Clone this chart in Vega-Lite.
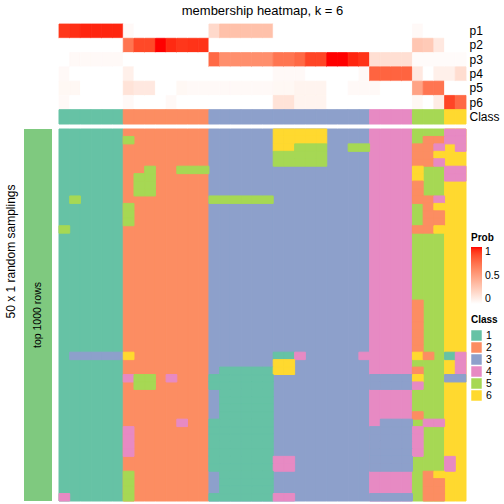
{
"$schema": "https://vega.github.io/schema/vega-lite/v6.json",
"padding": {"left": 3, "top": 4, "right": 0, "bottom": 0},
"config": {"font": "Liberation Sans", "view": {"stroke": null}},
"datasets": {
"cls": [{"c":0,"k":1},{"c":1,"k":1},{"c":2,"k":1},{"c":3,"k":1},{"c":4,"k":1},{"c":5,"k":1},{"c":6,"k":2},{"c":7,"k":2},{"c":8,"k":2},{"c":9,"k":2},{"c":10,"k":2},{"c":11,"k":2},{"c":12,"k":2},{"c":13,"k":2},{"c":14,"k":3},{"c":15,"k":3},{"c":16,"k":3},{"c":17,"k":3},{"c":18,"k":3},{"c":19,"k":3},{"c":20,"k":3},{"c":21,"k":3},{"c":22,"k":3},{"c":23,"k":3},{"c":24,"k":3},{"c":25,"k":3},{"c":26,"k":3},{"c":27,"k":3},{"c":28,"k":3},{"c":29,"k":4},{"c":30,"k":4},{"c":31,"k":4},{"c":32,"k":4},{"c":33,"k":5},{"c":34,"k":5},{"c":35,"k":5},{"c":36,"k":6},{"c":37,"k":6}],
"prob": [
{"c":0,"p1":0.92,"p2":0,"p3":0,"p4":0.03,"p5":0.04,"p6":0.03},
{"c":1,"p1":0.94,"p2":0,"p3":0.03,"p4":0,"p5":0.04,"p6":0},
{"c":2,"p1":0.96,"p2":0,"p3":0.03,"p4":0,"p5":0,"p6":0},
{"c":3,"p1":0.96,"p2":0,"p3":0.03,"p4":0,"p5":0,"p6":0},
{"c":4,"p1":0.96,"p2":0,"p3":0.03,"p4":0,"p5":0,"p6":0},
{"c":5,"p1":0.96,"p2":0,"p3":0.03,"p4":0,"p5":0,"p6":0},
{"c":6,"p1":0.03,"p2":0.7,"p3":0,"p4":0.08,"p5":0.15,"p6":0.03},
{"c":7,"p1":0,"p2":0.87,"p3":0,"p4":0,"p5":0.12,"p6":0},
{"c":8,"p1":0,"p2":0.87,"p3":0,"p4":0,"p5":0.12,"p6":0},
{"c":9,"p1":0,"p2":1,"p3":0,"p4":0,"p5":0,"p6":0},
{"c":10,"p1":0,"p2":0.95,"p3":0,"p4":0,"p5":0,"p6":0.03},
{"c":11,"p1":0,"p2":0.92,"p3":0,"p4":0,"p5":0.04,"p6":0},
{"c":12,"p1":0,"p2":0.93,"p3":0,"p4":0,"p5":0.03,"p6":0},
{"c":13,"p1":0,"p2":0.93,"p3":0,"p4":0,"p5":0.03,"p6":0},
{"c":14,"p1":0.2,"p2":0,"p3":0.75,"p4":0,"p5":0.03,"p6":0},
{"c":15,"p1":0.33,"p2":0,"p3":0.58,"p4":0,"p5":0.03,"p6":0},
{"c":16,"p1":0.33,"p2":0,"p3":0.58,"p4":0,"p5":0.03,"p6":0},
{"c":17,"p1":0.33,"p2":0,"p3":0.58,"p4":0,"p5":0.03,"p6":0},
{"c":18,"p1":0.33,"p2":0,"p3":0.58,"p4":0,"p5":0.03,"p6":0},
{"c":19,"p1":0.33,"p2":0,"p3":0.58,"p4":0,"p5":0.03,"p6":0},
{"c":20,"p1":0,"p2":0,"p3":0.7,"p4":0.03,"p5":0.04,"p6":0.15},
{"c":21,"p1":0,"p2":0,"p3":0.7,"p4":0.03,"p5":0.04,"p6":0.15},
{"c":22,"p1":0,"p2":0,"p3":0.75,"p4":0.03,"p5":0.06,"p6":0.06},
{"c":23,"p1":0,"p2":0,"p3":0.88,"p4":0,"p5":0.06,"p6":0.06},
{"c":24,"p1":0,"p2":0,"p3":0.88,"p4":0,"p5":0.06,"p6":0.06},
{"c":25,"p1":0,"p2":0,"p3":1,"p4":0,"p5":0,"p6":0},
{"c":26,"p1":0,"p2":0,"p3":1,"p4":0,"p5":0,"p6":0},
{"c":27,"p1":0,"p2":0,"p3":0.96,"p4":0,"p5":0.03,"p6":0},
{"c":28,"p1":0,"p2":0,"p3":0.93,"p4":0.03,"p5":0.03,"p6":0},
{"c":29,"p1":0,"p2":0,"p3":0.17,"p4":0.77,"p5":0.03,"p6":0},
{"c":30,"p1":0,"p2":0,"p3":0.17,"p4":0.77,"p5":0,"p6":0},
{"c":31,"p1":0,"p2":0,"p3":0.17,"p4":0.77,"p5":0,"p6":0},
{"c":32,"p1":0,"p2":0,"p3":0.17,"p4":0.77,"p5":0,"p6":0},
{"c":33,"p1":0.03,"p2":0.3,"p3":0.02,"p4":0.12,"p5":0.48,"p6":0.04},
{"c":34,"p1":0,"p2":0.28,"p3":0.02,"p4":0,"p5":0.7,"p6":0},
{"c":35,"p1":0,"p2":0.12,"p3":0.02,"p4":0.08,"p5":0.7,"p6":0.1},
{"c":36,"p1":0,"p2":0,"p3":0.02,"p4":0.08,"p5":0,"p6":0.88},
{"c":37,"p1":0,"p2":0,"p3":0.02,"p4":0.18,"p5":0,"p6":0.75}
],
"dev": [
{"r":0,"c":20,"k":6},{"r":0,"c":21,"k":6},{"r":0,"c":22,"k":6},{"r":0,"c":23,"k":6},{"r":0,"c":24,"k":6},{"r":0,"c":36,"k":4},{"r":0,"c":37,"k":4},
{"r":1,"c":6,"k":5},{"r":1,"c":20,"k":6},{"r":1,"c":21,"k":6},{"r":1,"c":22,"k":6},{"r":1,"c":23,"k":6},{"r":1,"c":24,"k":6},{"r":1,"c":34,"k":2},{"r":1,"c":35,"k":2},{"r":1,"c":36,"k":4},{"r":1,"c":37,"k":4},
{"r":2,"c":20,"k":6},{"r":2,"c":21,"k":6},{"r":2,"c":22,"k":5},{"r":2,"c":23,"k":5},{"r":2,"c":24,"k":5},{"r":2,"c":27,"k":5},{"r":2,"c":28,"k":5},{"r":2,"c":33,"k":2},{"r":2,"c":34,"k":2},{"r":2,"c":35,"k":4},{"r":2,"c":37,"k":4},
{"r":3,"c":20,"k":5},{"r":3,"c":21,"k":5},{"r":3,"c":22,"k":5},{"r":3,"c":23,"k":5},{"r":3,"c":24,"k":5},{"r":3,"c":33,"k":2},{"r":3,"c":34,"k":2},{"r":3,"c":35,"k":6},
{"r":4,"c":20,"k":5},{"r":4,"c":21,"k":5},{"r":4,"c":22,"k":5},{"r":4,"c":23,"k":5},{"r":4,"c":24,"k":5},{"r":4,"c":33,"k":2},{"r":4,"c":34,"k":2},{"r":4,"c":35,"k":4},
{"r":5,"c":8,"k":5},{"r":5,"c":11,"k":5},{"r":5,"c":12,"k":5},{"r":5,"c":13,"k":5},{"r":5,"c":33,"k":6},{"r":5,"c":36,"k":4},{"r":5,"c":37,"k":4},
{"r":6,"c":7,"k":5},{"r":6,"c":8,"k":5},{"r":6,"c":33,"k":6},{"r":6,"c":36,"k":4},{"r":6,"c":37,"k":4},
{"r":7,"c":7,"k":5},{"r":7,"c":8,"k":5},{"r":7,"c":33,"k":2},
{"r":8,"c":7,"k":5},{"r":8,"c":8,"k":5},{"r":8,"c":33,"k":2},
{"r":9,"c":1,"k":5},{"r":9,"c":14,"k":5},{"r":9,"c":15,"k":5},{"r":9,"c":16,"k":5},{"r":9,"c":17,"k":5},{"r":9,"c":18,"k":5},{"r":9,"c":19,"k":5},{"r":9,"c":33,"k":2},{"r":9,"c":34,"k":2},{"r":9,"c":35,"k":4},
{"r":10,"c":6,"k":5},{"r":10,"c":34,"k":2},{"r":10,"c":35,"k":6},
{"r":11,"c":6,"k":5},{"r":11,"c":34,"k":2},{"r":11,"c":35,"k":2},
{"r":12,"c":6,"k":5},{"r":12,"c":34,"k":2},{"r":12,"c":35,"k":2},
{"r":13,"c":0,"k":5},{"r":13,"c":33,"k":2},{"r":13,"c":34,"k":2},{"r":13,"c":35,"k":6},
{"r":23,"c":33,"k":2},{"r":24,"c":33,"k":2},{"r":25,"c":33,"k":2},{"r":26,"c":33,"k":2},{"r":27,"c":33,"k":2},{"r":28,"c":33,"k":2},{"r":29,"c":33,"k":2},
{"r":30,"c":1,"k":3},{"r":30,"c":2,"k":3},{"r":30,"c":3,"k":3},{"r":30,"c":4,"k":3},{"r":30,"c":5,"k":3},{"r":30,"c":6,"k":6},{"r":30,"c":20,"k":1},{"r":30,"c":21,"k":1},{"r":30,"c":22,"k":4},{"r":30,"c":28,"k":4},{"r":30,"c":33,"k":6},{"r":30,"c":34,"k":2},{"r":30,"c":36,"k":1},{"r":30,"c":37,"k":4},
{"r":31,"c":20,"k":6},{"r":31,"c":21,"k":6},{"r":31,"c":37,"k":4},
{"r":32,"c":15,"k":1},{"r":32,"c":16,"k":1},{"r":32,"c":17,"k":1},{"r":32,"c":18,"k":1},{"r":32,"c":19,"k":1},{"r":32,"c":20,"k":6},{"r":32,"c":21,"k":6},{"r":32,"c":33,"k":2},{"r":32,"c":37,"k":4},
{"r":33,"c":6,"k":4},{"r":33,"c":7,"k":5},{"r":33,"c":8,"k":5},{"r":33,"c":10,"k":4},{"r":33,"c":14,"k":1},{"r":33,"c":15,"k":1},{"r":33,"c":16,"k":1},{"r":33,"c":17,"k":1},{"r":33,"c":18,"k":1},{"r":33,"c":19,"k":1},{"r":33,"c":29,"k":3},{"r":33,"c":30,"k":3},{"r":33,"c":31,"k":3},{"r":33,"c":32,"k":3},{"r":33,"c":33,"k":6},{"r":33,"c":36,"k":3},{"r":33,"c":37,"k":3},
{"r":34,"c":7,"k":5},{"r":34,"c":8,"k":5},{"r":34,"c":14,"k":1},{"r":34,"c":15,"k":1},{"r":34,"c":16,"k":1},{"r":34,"c":17,"k":1},{"r":34,"c":18,"k":1},{"r":34,"c":19,"k":1},{"r":34,"c":29,"k":3},{"r":34,"c":30,"k":3},{"r":34,"c":31,"k":3},{"r":34,"c":32,"k":3},{"r":34,"c":33,"k":4},
{"r":35,"c":15,"k":1},{"r":35,"c":16,"k":1},{"r":35,"c":17,"k":1},{"r":35,"c":18,"k":1},{"r":35,"c":19,"k":1},
{"r":36,"c":15,"k":1},{"r":36,"c":16,"k":1},{"r":36,"c":17,"k":1},{"r":36,"c":18,"k":1},{"r":36,"c":19,"k":1},
{"r":37,"c":15,"k":1},{"r":37,"c":16,"k":1},{"r":37,"c":17,"k":1},{"r":37,"c":18,"k":1},{"r":37,"c":19,"k":1},
{"r":38,"c":15,"k":1},{"r":38,"c":16,"k":1},{"r":38,"c":17,"k":1},{"r":38,"c":18,"k":1},{"r":38,"c":19,"k":1},{"r":38,"c":33,"k":2},
{"r":39,"c":11,"k":4},{"r":39,"c":14,"k":1},{"r":39,"c":15,"k":1},{"r":39,"c":16,"k":1},{"r":39,"c":17,"k":1},{"r":39,"c":18,"k":1},{"r":39,"c":19,"k":1},{"r":39,"c":30,"k":3},{"r":39,"c":31,"k":3},{"r":39,"c":32,"k":3},{"r":39,"c":34,"k":4},{"r":39,"c":35,"k":4},
{"r":40,"c":6,"k":4},{"r":40,"c":14,"k":1},{"r":40,"c":15,"k":1},{"r":40,"c":16,"k":1},{"r":40,"c":17,"k":1},{"r":40,"c":18,"k":1},{"r":40,"c":19,"k":1},{"r":40,"c":29,"k":3},{"r":40,"c":30,"k":3},{"r":40,"c":31,"k":3},{"r":40,"c":32,"k":3},{"r":40,"c":33,"k":4},
{"r":41,"c":6,"k":4},{"r":41,"c":14,"k":1},{"r":41,"c":15,"k":1},{"r":41,"c":16,"k":1},{"r":41,"c":17,"k":1},{"r":41,"c":18,"k":1},{"r":41,"c":19,"k":1},{"r":41,"c":29,"k":3},{"r":41,"c":30,"k":3},{"r":41,"c":31,"k":3},{"r":41,"c":32,"k":3},{"r":41,"c":33,"k":4},
{"r":42,"c":6,"k":4},{"r":42,"c":14,"k":1},{"r":42,"c":15,"k":1},{"r":42,"c":16,"k":1},{"r":42,"c":17,"k":1},{"r":42,"c":18,"k":1},{"r":42,"c":19,"k":1},{"r":42,"c":29,"k":3},{"r":42,"c":30,"k":3},{"r":42,"c":31,"k":3},{"r":42,"c":32,"k":3},{"r":42,"c":33,"k":4},
{"r":43,"c":6,"k":4},{"r":43,"c":14,"k":1},{"r":43,"c":15,"k":1},{"r":43,"c":16,"k":1},{"r":43,"c":17,"k":1},{"r":43,"c":18,"k":1},{"r":43,"c":19,"k":1},{"r":43,"c":29,"k":3},{"r":43,"c":30,"k":3},{"r":43,"c":31,"k":3},{"r":43,"c":32,"k":3},{"r":43,"c":33,"k":4},
{"r":44,"c":14,"k":1},{"r":44,"c":15,"k":1},{"r":44,"c":16,"k":1},{"r":44,"c":17,"k":1},{"r":44,"c":18,"k":1},{"r":44,"c":19,"k":1},{"r":44,"c":20,"k":4},{"r":44,"c":21,"k":4},{"r":44,"c":29,"k":3},{"r":44,"c":30,"k":3},{"r":44,"c":31,"k":3},{"r":44,"c":32,"k":3},{"r":44,"c":36,"k":4},
{"r":45,"c":14,"k":1},{"r":45,"c":15,"k":1},{"r":45,"c":16,"k":1},{"r":45,"c":17,"k":1},{"r":45,"c":18,"k":1},{"r":45,"c":19,"k":1},{"r":45,"c":20,"k":4},{"r":45,"c":21,"k":4},{"r":45,"c":29,"k":3},{"r":45,"c":30,"k":3},{"r":45,"c":31,"k":3},{"r":45,"c":32,"k":3},{"r":45,"c":36,"k":4},
{"r":46,"c":6,"k":5},{"r":46,"c":15,"k":1},{"r":46,"c":16,"k":1},{"r":46,"c":17,"k":1},{"r":46,"c":18,"k":1},{"r":46,"c":19,"k":1},{"r":46,"c":34,"k":2},{"r":46,"c":35,"k":6},
{"r":47,"c":6,"k":5},{"r":47,"c":15,"k":1},{"r":47,"c":16,"k":1},{"r":47,"c":17,"k":1},{"r":47,"c":18,"k":1},{"r":47,"c":19,"k":1},{"r":47,"c":34,"k":2},{"r":47,"c":35,"k":2},
{"r":48,"c":6,"k":5},{"r":48,"c":15,"k":1},{"r":48,"c":16,"k":1},{"r":48,"c":17,"k":1},{"r":48,"c":18,"k":1},{"r":48,"c":19,"k":1},{"r":48,"c":34,"k":2},{"r":48,"c":35,"k":2},
{"r":49,"c":0,"k":4},{"r":49,"c":6,"k":5},{"r":49,"c":14,"k":1},{"r":49,"c":15,"k":1},{"r":49,"c":16,"k":1},{"r":49,"c":17,"k":1},{"r":49,"c":18,"k":1},{"r":49,"c":19,"k":1},{"r":49,"c":20,"k":4},{"r":49,"c":21,"k":4},{"r":49,"c":29,"k":3},{"r":49,"c":30,"k":3},{"r":49,"c":31,"k":3},{"r":49,"c":32,"k":3},{"r":49,"c":34,"k":2},{"r":49,"c":35,"k":2}
]
},
"columns": 2,
"spacing": {"row": 3, "column": 6},
"concat": [
{"width": 28, "height": 100, "data": {"values": [{"g": ""}]}, "mark": {"type": "rect", "opacity": 0}},
{"width": 407, "height": 100,
 "title": {"text": "membership heatmap, k = 6", "fontSize": 13, "fontWeight": "normal", "offset": 6},
 "layer": [
  {"data": {"name": "prob"},
   "transform": [{"fold": ["p1","p2","p3","p4","p5","p6"], "as": ["row","prob"]}],
   "mark": {"type": "rect", "strokeWidth": 0.8},
   "encoding": {
    "x": {"field": "c", "type": "ordinal", "axis": null, "scale": {"domain": [0,1,2,3,4,5,6,7,8,9,10,11,12,13,14,15,16,17,18,19,20,21,22,23,24,25,26,27,28,29,30,31,32,33,34,35,36,37], "padding": 0}},
    "y": {"field": "row", "type": "nominal", "scale": {"domain": ["p1","p2","p3","p4","p5","p6","Class"], "padding": 0},
          "axis": {"orient": "right", "title": null, "ticks": false, "domain": false, "labelPadding": 3, "labelFontSize": 12, "labelColor": "black"}},
    "color": {"field": "prob", "type": "quantitative",
              "scale": {"domain": [0,1], "range": ["#FFFFFF","#FF0000"], "interpolate": "lab"},
              "legend": {"title": "Prob", "orient": "none", "legendX": 447, "legendY": 209, "gradientLength": 57, "gradientThickness": 11, "values": [0,0.5,1], "format": "~g", "titleFontSize": 10, "titleFontWeight": "bold", "titleColor": "black", "labelFontSize": 10.5, "labelColor": "black", "labelOffset": 3, "titlePadding": 4}},
    "stroke": {"field": "prob", "type": "quantitative",
              "scale": {"domain": [0,1], "range": ["#FFFFFF","#FF0000"], "interpolate": "lab"}, "legend": null}
   }},
  {"data": {"name": "cls"},
   "mark": {"type": "rect", "strokeWidth": 1},
   "encoding": {
    "x": {"field": "c", "type": "ordinal"},
    "y": {"datum": "Class"},
    "fill": {"field": "k", "type": "nominal",
             "scale": {"domain": [1,2,3,4,5,6], "range": ["#66C2A5","#FC8D62","#8DA0CB","#E78AC3","#A6D854","#FFD92F"]},
             "legend": {"title": "Class", "orient": "none", "legendX": 447, "legendY": 291, "symbolType": "square", "symbolSize": 110, "symbolStrokeWidth": 0, "rowPadding": 1, "titleFontSize": 10, "titleFontWeight": "bold", "titleColor": "black", "labelFontSize": 10.5, "labelColor": "black", "labelOffset": 4, "titlePadding": 5}},
    "stroke": {"field": "k", "type": "nominal",
             "scale": {"domain": [1,2,3,4,5,6], "range": ["#66C2A5","#FC8D62","#8DA0CB","#E78AC3","#A6D854","#FFD92F"]}, "legend": null}
   }}
 ]},
{"width": 28, "height": 372,
 "data": {"values": [{"g": "top 1000 rows"}]},
 "encoding": {"y": {"field": "g", "type": "nominal", "scale": {"padding": 0},
   "axis": {"labels": false, "ticks": false, "domain": false, "title": "50 x 1 random samplings", "titleFontSize": 12, "titleFontWeight": "normal", "titleColor": "black", "titlePadding": 7, "titleY": 122, "titleAngle": 270}}},
 "layer": [
  {"mark": {"type": "rect", "color": "#7FC97F"}},
  {"mark": {"type": "text", "angle": 270, "fontSize": 10.5, "color": "black"}, "encoding": {"text": {"field": "g"}}}
 ]},
{"width": 407, "height": 372,
 "layer": [
  {"data": {"name": "cls"},
   "mark": {"type": "rect", "strokeWidth": 1},
   "encoding": {
    "x": {"field": "c", "type": "ordinal", "axis": null, "scale": {"domain": [0,1,2,3,4,5,6,7,8,9,10,11,12,13,14,15,16,17,18,19,20,21,22,23,24,25,26,27,28,29,30,31,32,33,34,35,36,37], "padding": 0}},
    "fill": {"field": "k", "type": "nominal",
             "scale": {"domain": [1,2,3,4,5,6], "range": ["#66C2A5","#FC8D62","#8DA0CB","#E78AC3","#A6D854","#FFD92F"]},
             "legend": {"title": "Class", "orient": "none", "legendX": 447, "legendY": 291, "symbolType": "square", "symbolSize": 110, "symbolStrokeWidth": 0, "rowPadding": 1, "titleFontSize": 10, "titleFontWeight": "bold", "titleColor": "black", "labelFontSize": 10.5, "labelColor": "black", "labelOffset": 4, "titlePadding": 5}},
    "stroke": {"field": "k", "type": "nominal",
             "scale": {"domain": [1,2,3,4,5,6], "range": ["#66C2A5","#FC8D62","#8DA0CB","#E78AC3","#A6D854","#FFD92F"]}, "legend": null}
   }},
  {"data": {"name": "dev"},
   "mark": {"type": "rect", "strokeWidth": 1},
   "encoding": {
    "x": {"field": "c", "type": "ordinal"},
    "y": {"field": "r", "type": "ordinal", "axis": null, "scale": {"domain": [0,1,2,3,4,5,6,7,8,9,10,11,12,13,14,15,16,17,18,19,20,21,22,23,24,25,26,27,28,29,30,31,32,33,34,35,36,37,38,39,40,41,42,43,44,45,46,47,48,49], "padding": 0}},
    "fill": {"field": "k", "type": "nominal",
             "scale": {"domain": [1,2,3,4,5,6], "range": ["#66C2A5","#FC8D62","#8DA0CB","#E78AC3","#A6D854","#FFD92F"]}},
    "stroke": {"field": "k", "type": "nominal",
             "scale": {"domain": [1,2,3,4,5,6], "range": ["#66C2A5","#FC8D62","#8DA0CB","#E78AC3","#A6D854","#FFD92F"]}, "legend": null}
   }}
 ]}
]
}
